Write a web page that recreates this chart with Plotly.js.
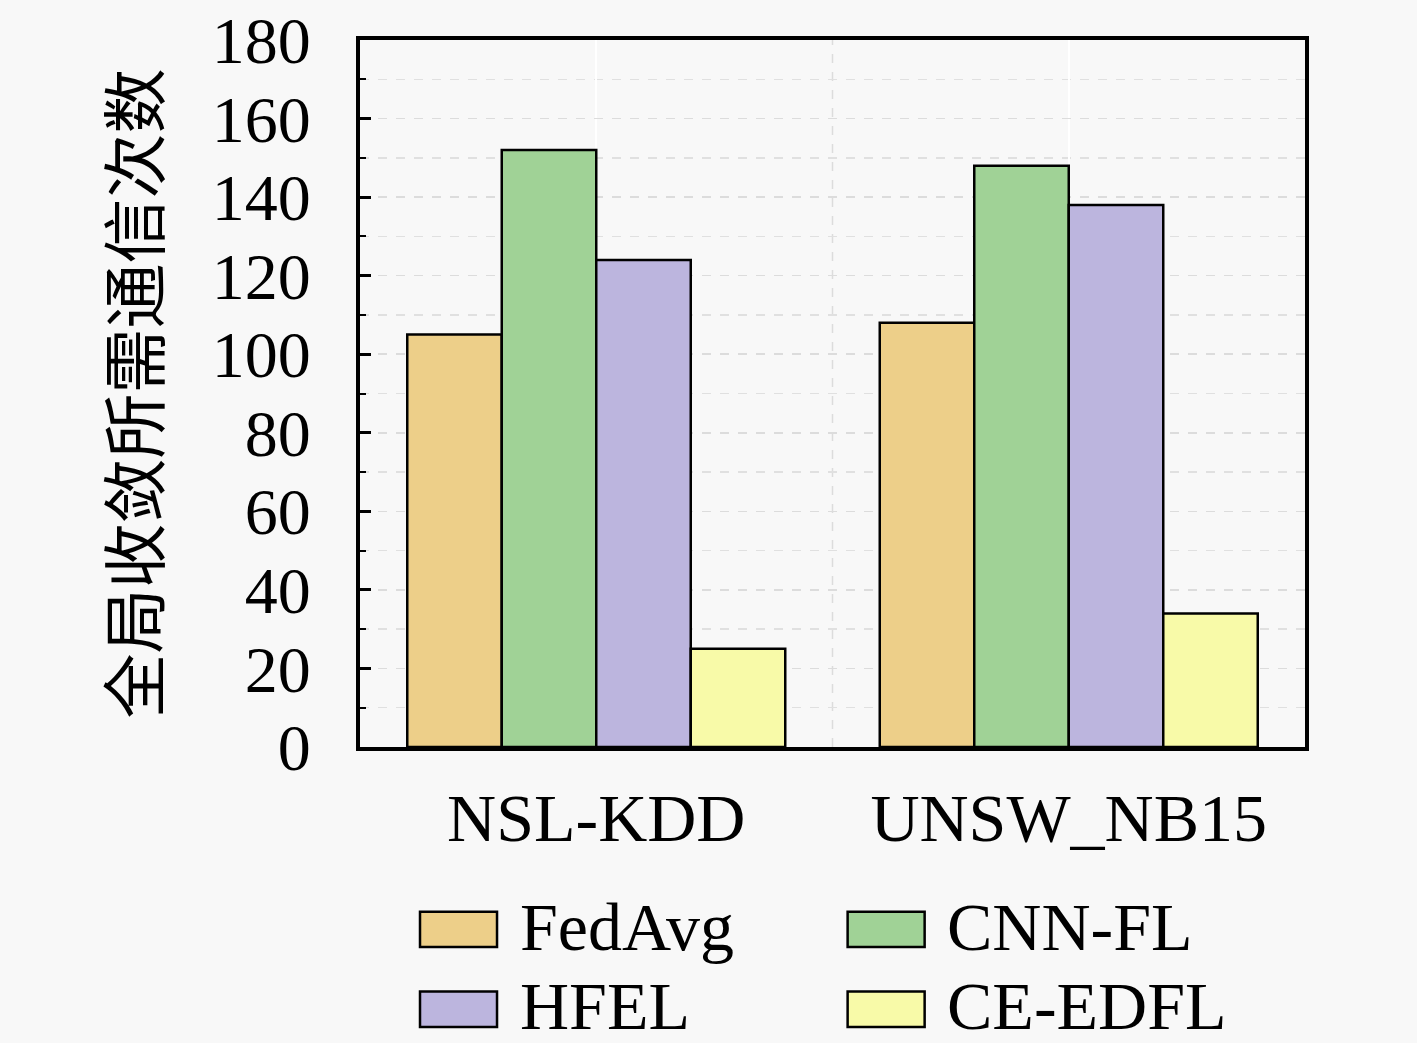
<!DOCTYPE html>
<html>
<head>
<meta charset="utf-8">
<script src="https://cdn.plot.ly/plotly-3.0.1.min.js"></script>
<style>
  html, body { margin: 0; padding: 0; background: #f8f8f8; }
  #chart { width: 1417px; height: 1043px; }
</style>
</head>
<body>
<div id="chart"></div>
<script>
  // values
  var categories = ['NSL-KDD', 'UNSW_NB15'];
  var seriesNames = ['FedAvg', 'CNN-FL', 'HFEL', 'CE-EDFL'];
  var fedAvg = [105, 108];
  var cnnFl = [152, 148];
  var hfel = [124, 138];
  var ceEdfl = [25, 34];
  var seriesColors = ['#edcf89', '#a0d296', '#bcb5de', '#f8faa8'];
  var yTickVals = [0, 20, 40, 60, 80, 100, 120, 140, 160, 180];

  var SERIF = 'Liberation Serif, DejaVu Serif, serif';
  var allValues = [fedAvg, cnnFl, hfel, ceEdfl];

  var traces = allValues.map(function (vals, i) {
    return {
      type: 'bar',
      name: seriesNames[i],
      x: categories,
      y: vals,
      marker: { color: seriesColors[i], line: { color: '#000000', width: 2.5 } },
      showlegend: false,
      hoverinfo: 'skip'
    };
  });

  // hand-built legend: two columns, large swatches
  var shapes = [];
  var annotations = [];
  var legendCols = [0.0635, 0.516];
  var legendRows = [-0.233, -0.346];
  var swatchW = 0.0815;
  var swatchH = 0.05;
  seriesNames.forEach(function (name, i) {
    var cx = legendCols[i % 2];
    var ry = legendRows[Math.floor(i / 2)];
    shapes.push({
      type: 'rect', xref: 'paper', yref: 'paper',
      x0: cx, x1: cx + swatchW, y0: ry - swatchH, y1: ry,
      fillcolor: seriesColors[i], line: { color: '#000000', width: 2.5 }
    });
    annotations.push({
      xref: 'paper', yref: 'paper',
      x: cx + swatchW + 0.022, y: ry - swatchH / 2 + 0.004,
      xanchor: 'left', yanchor: 'middle',
      text: name, showarrow: false,
      font: { family: SERIF, size: 68, color: '#000000' }
    });
  });

  // dashed separator between the two groups
  shapes.push({
    type: 'line', xref: 'x', yref: 'paper',
    x0: 0.5, x1: 0.5, y0: 0, y1: 1,
    line: { color: '#dcdcdc', width: 1.5, dash: 'dash' },
    layer: 'below'
  });

  var layout = {
    width: 1417,
    height: 1043,
    paper_bgcolor: '#f8f8f8',
    plot_bgcolor: '#f8f8f8',
    margin: { l: 360, r: 112, t: 40, b: 296 },
    barmode: 'group',
    bargap: 0.2,
    bargroupgap: 0,
    font: { family: SERIF, color: '#000000' },
    xaxis: {
      type: 'category',
      range: [-0.5, 1.5],
      showline: true, mirror: true, linecolor: '#000000', linewidth: 4,
      ticks: '',
      showgrid: true, gridcolor: '#ffffff', gridwidth: 2,
      tickfont: { family: SERIF, size: 68, color: '#000000' },
      ticklabelstandoff: 8,
      zeroline: false
    },
    yaxis: {
      range: [0, 180],
      tickvals: yTickVals,
      showline: true, mirror: true, linecolor: '#000000', linewidth: 4,
      ticks: 'inside', ticklen: 11, tickwidth: 3, tickcolor: '#000000',
      showgrid: true, gridcolor: '#dcdcdc', gridwidth: 1.5, griddash: 'dash',
      minor: {
        dtick: 10, ticks: 'inside', ticklen: 6, tickwidth: 2, tickcolor: '#000000',
        showgrid: true, gridcolor: '#e0e0e0', gridwidth: 1.5, griddash: 'dash'
      },
      tickfont: { family: SERIF, size: 66, color: '#000000' },
      ticklabelstandoff: 32,
      zeroline: false,
      title: {
        text: '全局收敛所需通信次数',
        font: { family: 'Noto Sans CJK SC, sans-serif', size: 65, color: '#000000' },
        standoff: 32
      }
    },
    shapes: shapes,
    annotations: annotations
  };

  Plotly.newPlot('chart', traces, layout, { displayModeBar: false, staticPlot: true });
</script>
</body>
</html>
